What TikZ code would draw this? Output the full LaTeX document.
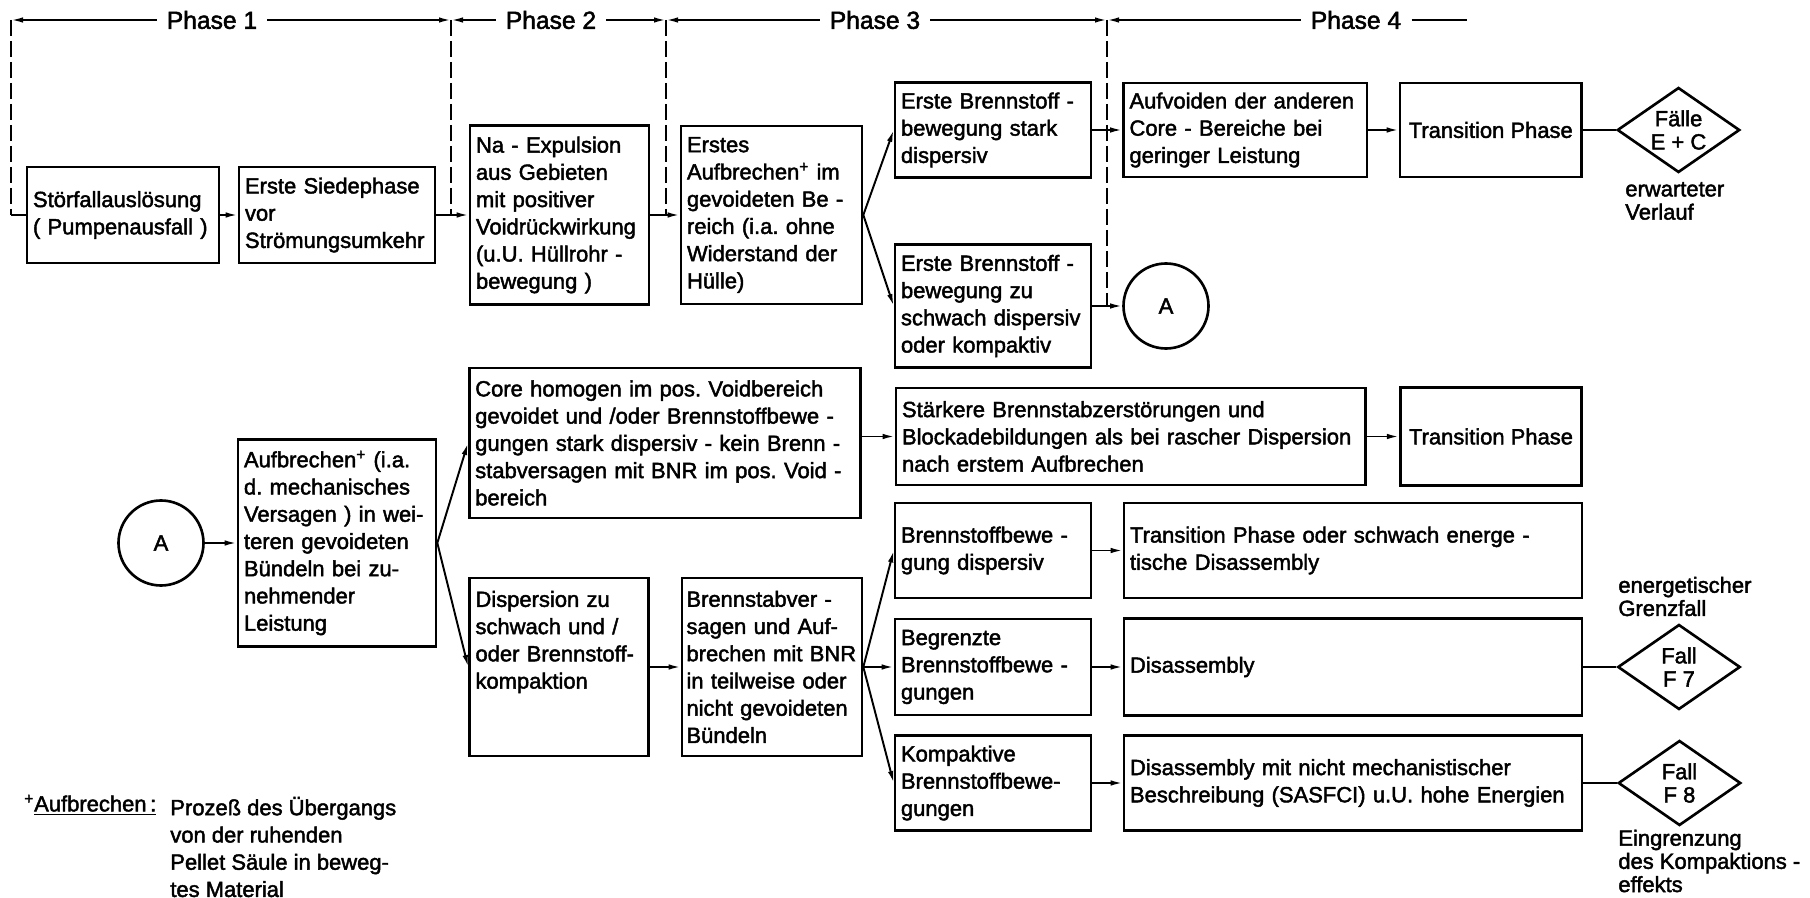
\documentclass[tikz,border=0pt]{standalone}
\usepackage{fontspec}
\setmainfont{Liberation Sans}[FakeBold=2]
\usetikzlibrary{arrows.meta,shapes.geometric}
\newcommand\bxfont{\fontsize{12.5}{15.5}\selectfont}
\newcommand\lblfont{\fontsize{12.5}{13.2}\selectfont}
\newcommand\phfont{\fontsize{14}{16}\selectfont}
\frenchspacing

\begin{document}
\begin{tikzpicture}[x=0.2mm, y=-0.2mm,
  blk/.style={draw, line width=1.5pt, align=left, inner xsep=1.2mm, inner ysep=1mm, font=\bxfont},
  circ/.style={draw, circle, line width=1.5pt, minimum size=17mm, inner sep=0pt, font=\bxfont},
  dia/.style={draw, diamond, line width=1.5pt, aspect=1.45, inner sep=0pt, minimum width=24.5mm, minimum height=17mm, align=center, font=\lblfont},
  lbl/.style={align=left, inner sep=0pt, font=\lblfont},
  phase/.style={inner xsep=2mm, font=\phfont},
  arr/.style={line width=1.1pt, -{Latex[length=2.4mm,width=1.1mm]}},
  ln/.style={line width=1.1pt},
  bound/.style={line width=0.9pt, dash pattern=on 3.2mm off 1mm}]

\useasboundingbox (0,0) rectangle (1810,898);

\coordinate (t0) at (11,20);
\coordinate (t1) at (451,20);
\coordinate (t2) at (666,20);
\coordinate (t3) at (1107,20);
\coordinate (t5) at (1467,20);

\node[phase] (ph1) at (212,20) {Phase 1};
\node[phase] (ph2) at (551,20) {Phase 2};
\node[phase] (ph3) at (875,20) {Phase 3};
\node[phase] (ph4) at (1356,20) {Phase 4};

\draw[arr] (ph1.west) -- (t0);
\draw[arr] (ph1.east) -- (t1);
\draw[arr] (ph2.west) -- (t1);
\draw[arr] (ph2.east) -- (t2);
\draw[arr] (ph3.west) -- (t2);
\draw[arr] (ph3.east) -- (t3);
\draw[arr] (ph4.west) -- (t3);
\draw[ln] (ph4.east) -- (t5);

\node[blk, text width=36mm, minimum height=19.2mm] (stoer) at (123,215) {Störfallauslösung\\( Pumpenausfall )};
\node[blk, text width=36.8mm, minimum height=19.2mm] (siede) at (337,215) {Erste Siedephase\\vor\\Strömungsumkehr};
\node[blk, text width=33.4mm, minimum height=35.8mm] (naexp) at (559.5,215) {Na - Expulsion\\aus Gebieten\\mit positiver\\Voidrückwirkung\\(u.U. Hüllrohr -\\bewegung )};
\node[blk, text width=33.8mm, minimum height=35.6mm] (erstes) at (771.5,215) {Erstes\\Aufbrechen\textsuperscript{+} im\\gevoideten Be -\\reich (i.a. ohne\\Widerstand der\\Hülle)};
\node[blk, text width=36.8mm, minimum height=19mm] (stark) at (993,130) {Erste Brennstoff -\\bewegung stark\\dispersiv};
\node[blk, text width=36.8mm, minimum height=24.6mm] (schwach) at (993,306) {Erste Brennstoff -\\bewegung zu\\schwach dispersiv\\oder kompaktiv};
\node[blk, text width=46.3mm, minimum height=18.8mm] (aufvoid) at (1245.25,130) {Aufvoiden der anderen\\Core - Bereiche bei\\geringer Leistung};
\node[blk, minimum width=36.3mm, minimum height=18.8mm] (trans1) at (1490.75,130) {Transition Phase};
\node[dia] (diaEC) at (1678.5,130) {Fälle\\E + C};
\node[lbl, anchor=west] (erw) at (1625,201) {erwarteter\\Verlauf};
\node[circ] (circA1) at (1166,306) {A};

\draw[bound] (t0) -- (t0 |- stoer.west);
\draw[ln] (t0 |- stoer.west) -- (stoer.west);
\draw[bound] (t1) -- (t1 |- naexp.west);
\draw[bound] (t2) -- (t2 |- erstes.west);
\draw[bound] (t3) -- (t3 |- circA1.west);

\draw[arr] (stoer) -- (siede);
\draw[arr] (siede) -- (naexp);
\draw[arr] (naexp) -- (erstes);
\draw[arr] (erstes.east) -- (stark.west);
\draw[arr] (erstes.east) -- (schwach.west);
\draw[arr] (stark) -- (aufvoid);
\draw[arr] (aufvoid) -- (trans1);
\draw[ln] (trans1) -- (diaEC);
\draw[arr] (schwach) -- (circA1);

\node[circ] (circA2) at (161,543) {A};
\node[blk, text width=37.2mm, minimum height=41.4mm] (aufbr) at (337,543) {Aufbrechen\textsuperscript{+} (i.a.\\d. mechanisches\\Versagen ) in wei-\\teren gevoideten\\Bündeln bei zu-\\nehmender\\Leistung};
\node[blk, text width=75.9mm, minimum height=30mm] (core) at (665,443) {Core homogen im pos. Voidbereich\\gevoidet und /oder Brennstoffbewe -\\gungen stark dispersiv - kein Brenn -\\stabversagen mit BNR im pos. Void -\\bereich};
\node[blk, text width=91.5mm, minimum height=19.4mm] (staerk) at (1130.75,436.5) {Stärkere Brennstabzerstörungen und\\Blockadebildungen als bei rascher Dispersion\\nach erstem Aufbrechen};
\node[blk, minimum width=36.3mm, minimum height=19.6mm] (trans2) at (1491,436.5) {Transition Phase};
\node[blk, text width=33.4mm, minimum height=35.6mm] (disp) at (559,667) {Dispersion zu\\schwach und /\\oder Brennstoff-\\kompaktion\\ \mbox{}\\ \mbox{}};
\node[blk, inner xsep=0.9mm, text width=34.2mm, minimum height=35.6mm] (bstab) at (772,667) {Brennstabver -\\sagen und Auf-\\brechen mit BNR\\in teilweise oder\\nicht gevoideten\\Bündeln};
\node[blk, text width=36.8mm, minimum height=19mm] (bdisp) at (993,550.5) {Brennstoffbewe -\\gung dispersiv};
\node[blk, text width=89.2mm, minimum height=19mm] (tschw) at (1353,550.5) {Transition Phase oder schwach energe -\\tische Disassembly};
\node[blk, text width=36.8mm, minimum height=19.2mm] (begr) at (993,667) {Begrenzte\\Brennstoffbewe -\\gungen};
\node[blk, text width=89.2mm, minimum height=19.4mm] (disa) at (1353,667) {Disassembly};
\node[blk, text width=36.8mm, minimum height=19mm] (kompa) at (993,783) {Kompaktive\\Brennstoffbewe-\\gungen};
\node[blk, text width=89.2mm, minimum height=19mm] (disam) at (1353,783) {Disassembly mit nicht mechanistischer\\Beschreibung (SASFCI) u.U. hohe Energien};
\node[dia] (diaF7) at (1679,667) {Fall\\F 7};
\node[dia] (diaF8) at (1679.5,783) {Fall\\F 8};
\node[lbl, anchor=west] (grenz) at (1618,596.5) {energetischer\\Grenzfall};
\node[lbl, anchor=west] (eingr) at (1618,861) {Eingrenzung\\des Kompaktions -\\effekts};

\draw[arr] (circA2) -- (aufbr);
\draw[arr] (aufbr.east) -- (core.west);
\draw[arr] (aufbr.east) -- (disp.west);
\draw[arr] (core.east |- staerk.west) -- (staerk.west);
\draw[arr] (staerk) -- (trans2);
\draw[arr] (disp) -- (bstab);
\draw[arr] (bstab.east) -- (bdisp.west);
\draw[arr] (bstab.east) -- (begr.west);
\draw[arr] (bstab.east) -- (kompa.west);
\draw[arr] (bdisp) -- (tschw);
\draw[arr] (begr) -- (disa);
\draw[arr] (kompa) -- (disam);
\draw[ln] (disa) -- (diaF7);
\draw[ln] (disam) -- (diaF8);

\node[lbl, font=\bxfont, anchor=west] (fnkey) at (24,805) {\textsuperscript{+}\underline{Aufbrechen\,:}};
\node[lbl, font=\bxfont, anchor=west] (fntext) at (170,847) {Prozeß des Übergangs\\von der ruhenden\\Pellet Säule in beweg-\\tes Material};

\end{tikzpicture}
\end{document}
